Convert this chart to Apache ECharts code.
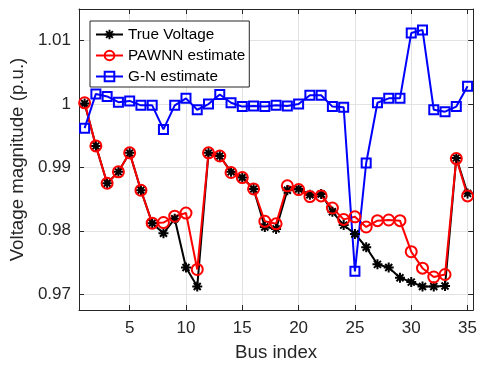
<!DOCTYPE html>
<html>
<head>
<meta charset="utf-8">
<script src="https://cdn.jsdelivr.net/npm/echarts@6/dist/echarts.min.js"></script>
<style>
html,body{margin:0;padding:0;background:#fff;}
#chart{width:480px;height:369px;}
</style>
</head>
<body>
<div id="chart"></div>
<script>
var busIndex = [1,2,3,4,5,6,7,8,9,10,11,12,13,14,15,16,17,18,19,20,21,22,23,24,25,26,27,28,29,30,31,32,33,34,35];
var trueVoltage = [1.0001,0.9934,0.9875,0.9893,0.9923,0.9864,0.9812,0.9796,0.9819,0.9742,0.9712,0.9923,0.9918,0.9893,0.9884,0.9866,0.9806,0.9803,0.9864,0.9866,0.9857,0.9858,0.9830,0.9809,0.9795,0.9774,0.9747,0.9742,0.9726,0.9719,0.9712,0.9712,0.9713,0.9915,0.9859];
var pawnnEstimate = [1.0002,0.9934,0.9875,0.9893,0.9923,0.9864,0.9812,0.9813,0.9823,0.9828,0.9739,0.9923,0.9918,0.9892,0.9884,0.9866,0.9815,0.9811,0.9871,0.9865,0.9854,0.9855,0.9836,0.9818,0.9822,0.9806,0.9816,0.9817,0.9816,0.9767,0.9741,0.9727,0.9731,0.9914,0.9855];
var gnEstimate = [0.9962,1.0016,1.0012,1.0003,1.0005,0.9998,0.9998,0.9960,0.9998,1.0009,0.9991,1.0000,1.0015,1.0002,0.9996,0.9997,0.9996,0.9998,0.9997,1.0000,1.0014,1.0014,0.9996,0.9995,0.9736,0.9907,1.0002,1.0009,1.0009,1.0112,1.0117,0.9991,0.9988,0.9996,1.0028];
var seriesNames = ['True Voltage','PAWNN estimate','G-N estimate'];
var xTicks = [5,10,15,20,25,30,35];
var xTickLabels = ['5','10','15','20','25','30','35'];
var yTicks = [0.97,0.98,0.99,1.0,1.01];
var yTickLabels = ['0.97','0.98','0.99','1','1.01'];
var xRange = [0.5,35.5];
var yRange = [0.9675,1.015];

function pairs(vals){ return busIndex.map(function(b,i){ return [b, vals[i]]; }); }
function labelFor(ticks, labels){
  return function(v){
    for (var i=0;i<ticks.length;i++){ if (Math.abs(ticks[i]-v) < 1e-9) return labels[i]; }
    return '';
  };
}
var FONT = "'Liberation Sans', Arial, Helvetica, sans-serif";
var AX = '#262626';
var GRIDC = '#e3e3e3';
var star = 'path://M0,-10L0,10M-10,0L10,0M-7,-7L7,7M-7,7L7,-7';

function xAxisDef(pos, main){
  return {
    type:'value', position:pos, min:xRange[0], max:xRange[1],
    axisLine:{show:true, onZero:false, lineStyle:{color:AX, width:1}},
    axisTick:{show:true, inside:true, length:5, customValues:xTicks, lineStyle:{color:AX}},
    axisLabel:{show:main, customValues:xTicks, formatter:labelFor(xTicks,xTickLabels), fontSize:17, color:AX, fontFamily:FONT, margin:10},
    splitLine:{show:main, lineStyle:{color:GRIDC, width:1}},
    name: main ? 'Bus index' : '', nameLocation:'middle', nameGap:33,
    nameTextStyle:{fontSize:18.7, color:AX, fontFamily:FONT}
  };
}
function yAxisDef(pos, main){
  return {
    type:'value', position:pos, min:yRange[0], max:yRange[1],
    axisLine:{show:true, onZero:false, lineStyle:{color:AX, width:1}},
    axisTick:{show:true, inside:true, length:5, customValues:yTicks, lineStyle:{color:AX}},
    axisLabel:{show:main, customValues:yTicks, formatter:labelFor(yTicks,yTickLabels), fontSize:17, color:AX, fontFamily:FONT, margin:8},
    splitLine:{show:main, lineStyle:{color:GRIDC, width:1}},
    name: main ? 'Voltage magnitude (p.u.)' : '', nameLocation:'middle', nameGap:43,
    nameTextStyle:{fontSize:18.7, color:AX, fontFamily:FONT}
  };
}

var chart = echarts.init(document.getElementById('chart'), null, {renderer:'canvas'});
chart.setOption({
  animation:false,
  backgroundColor:'#fff',
  grid:{left:78, top:9, right:4, bottom:59, containLabel:false},
  xAxis:[xAxisDef('bottom', true), xAxisDef('top', false)],
  yAxis:[yAxisDef('left', true), yAxisDef('right', false)],
  legend:{
    data:seriesNames, orient:'vertical', left:90, top:21,
    itemWidth:27, itemHeight:12, itemGap:6,
    padding:[6,4,3,5],
    borderColor:AX, borderWidth:1, backgroundColor:'#fff',
    textStyle:{fontSize:15.3, color:'#000', fontFamily:FONT},
    selectedMode:false
  },
  series:[
    {
      name:seriesNames[0], type:'line', data:pairs(trueVoltage),
      symbol:star, symbolSize:10, showAllSymbol:true,
      lineStyle:{color:'#000', width:2},
      itemStyle:{color:'#000', borderColor:'#000', borderWidth:2},
      emphasis:{disabled:true}
    },
    {
      name:seriesNames[1], type:'line', data:pairs(pawnnEstimate),
      symbol:'circle', symbolSize:11, showAllSymbol:true,
      lineStyle:{color:'#ff0000', width:2},
      itemStyle:{color:'rgba(255,255,255,0)', borderColor:'#ff0000', borderWidth:2},
      emphasis:{disabled:true}
    },
    {
      name:seriesNames[2], type:'line', data:pairs(gnEstimate),
      symbol:'rect', symbolSize:9, showAllSymbol:true,
      lineStyle:{color:'#0000ff', width:2},
      itemStyle:{color:'rgba(255,255,255,0)', borderColor:'#0000ff', borderWidth:2},
      emphasis:{disabled:true}
    }
  ]
});
</script>
</body>
</html>
